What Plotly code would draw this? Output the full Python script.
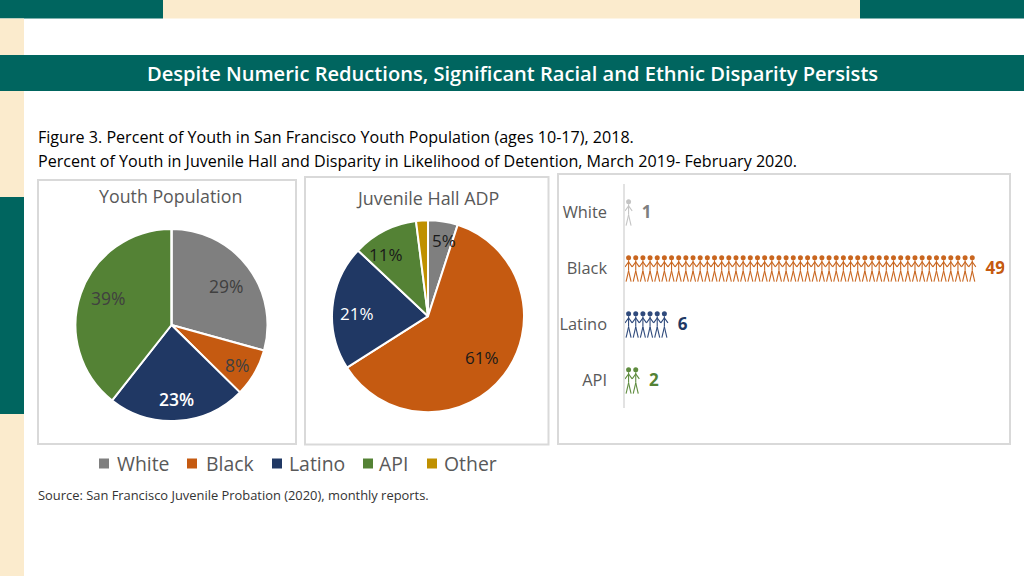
import plotly.graph_objects as go

# ---- data ----
pie_labels = ["White", "Black", "Latino", "API", "Other"]
youth_values = [29, 8, 23, 39, 0]
hall_values = [5, 61, 21, 11, 2]
youth_text = ["29%", "8%", "23%", "39%"]
hall_text = ["5%", "61%", "21%", "11%"]
picto_categories = ["White", "Black", "Latino", "API"]
picto_values = [1, 49, 6, 2]
title_text = "Despite Numeric Reductions, Significant Racial and Ethnic Disparity Persists"
fig_line1 = "Figure 3. Percent of Youth in San Francisco Youth Population (ages 10-17), 2018."
fig_line2 = "Percent of Youth in Juvenile Hall and Disparity in Likelihood of Detention, March 2019- February 2020."
source_text = "Source: San Francisco Juvenile Probation (2020), monthly reports."

# ---- styles ----
W, H = 1024, 576
FONT = "Open Sans"
TEAL = "#00655F"
CREAM = "#FBEBCD"
BORDER = "#D9D9D9"
GREY = "#595959"
pie_colors = ["#7F7F7F", "#C55A11", "#203864", "#548235", "#BF9000"]
picto_colors = ["#C4C4C4", "#C9661F", "#2F4A7C", "#5F8C3F"]
picto_label_colors = ["#7F7F7F", "#C55A11", "#203864", "#548235"]


def px(x):
    return x / W


def py(y):
    return 1 - y / H


def rect(x0, y0, x1, y1, fill=None, line=None, lw=2):
    return dict(type="rect", xref="paper", yref="paper", x0=px(x0), x1=px(x1), y0=py(y1), y1=py(y0),
                fillcolor=fill or "rgba(0,0,0,0)", line=dict(color=line or "rgba(0,0,0,0)", width=lw if line else 0),
                layer="below")


def note(x, y, text, size, color, anchor="center", weight=400):
    return dict(xref="paper", yref="paper", x=px(x - 2 if anchor == "left" else x), y=py(y), text=text,
                showarrow=False, xanchor=anchor, yanchor="middle",
                font=dict(family=FONT, size=size, color=color, weight=weight))


fig = go.Figure()


def add_pie(values, cx, cy, r):
    fig.add_trace(go.Pie(labels=pie_labels, values=values, sort=False, direction="clockwise", rotation=0,
                         textinfo="none", showlegend=False,
                         marker=dict(colors=pie_colors, line=dict(color="white", width=2)),
                         domain=dict(x=[px(cx - r), px(cx + r)], y=[py(cy + r), py(cy - r)])))


add_pie(youth_values, 171.5, 325, 96)
add_pie(hall_values, 428, 316.2, 96)

# pictogram: one glyph per unit of value, positioned by the axes
GLYPH_X = [0.5, 0.5, None, 0.5, 0.15, None, 0.5, 0.85, None, 0.0, 0.5, 1.0]
GLYPH_Y = [-0.14, 0.05, None, 0.05, 0.245, None, 0.05, 0.245, None, -0.02, -0.11, -0.02]
for i, (n, col) in enumerate(zip(picto_values, picto_colors)):
    xs, ys, hx, hy = [], [], [], []
    for k in range(n):
        xs += [None if g is None else k + g for g in GLYPH_X] + [None]
        ys += [None if g is None else i + g for g in GLYPH_Y] + [None]
        hx.append(k + 0.5)
        hy.append(i - 0.185)
    fig.add_trace(go.Scatter(x=xs, y=ys, mode="lines", line=dict(color=col, width=1.1), xaxis="x", yaxis="y",
                             showlegend=False, connectgaps=False))
    fig.add_trace(go.Scatter(x=hx, y=hy, mode="markers", marker=dict(color=col, size=5, symbol="circle"),
                             xaxis="x", yaxis="y", showlegend=False))
fig.add_trace(go.Scatter(x=[v + 1.35 for v in picto_values], y=[i + 0.035 for i in range(len(picto_values))],
                         mode="text",
                         text=[f"<b>{v}</b>" for v in picto_values], textposition="middle right",
                         textfont=dict(family=FONT, size=17, color=picto_label_colors),
                         xaxis="x", yaxis="y", showlegend=False))

shapes = [
    rect(0, 0, 163, 18.5, fill=TEAL),
    rect(163, 0, 860, 18.5, fill=CREAM),
    rect(860, 0, 1024, 18.5, fill=TEAL),
    rect(0, 18.5, 24, 197, fill=CREAM),
    rect(0, 197, 24, 414, fill=TEAL),
    rect(0, 414, 24, 576, fill=CREAM),
    rect(0, 55, 1024, 91, fill=TEAL),
    rect(38, 180, 296, 444, line=BORDER),
    rect(305, 177, 548.5, 444.5, line=BORDER),
    rect(558, 174, 1010, 444, line=BORDER),
]
# legend
legend_x = [(99, 117), (187, 206), (272, 289), (363, 379), (427, 444)]
for (sq, tx), lab, col in zip(legend_x, pie_labels, pie_colors):
    shapes.append(rect(sq, 458.5, sq + 10, 468.5, fill=col))

annotations = [
    note(512, 73, title_text, 20.1, "white", weight=600),
    note(38, 137, fig_line1, 16.1, "#000000", "left"),
    note(38, 161, fig_line2, 16.1, "#000000", "left"),
    note(170.5, 196, "Youth Population", 17.8, GREY),
    note(427, 198, "Juvenile Hall ADP", 17.9, GREY),
    note(38, 495, source_text, 12.9, "#333333", "left"),
]
for (sq, tx), lab in zip(legend_x, pie_labels):
    annotations.append(note(tx, 463.5, lab, 19.4, GREY, "left"))

youth_pos = [(226, 286), (237, 365), (176, 399), (108, 298)]
youth_cols = ["#404040", "#404040", "white", "#404040"]
youth_wt = [400, 400, 600, 400]
for (x, y), t, c, w in zip(youth_pos, youth_text, youth_cols, youth_wt):
    annotations.append(note(x, y, t, 17.5, c, weight=w))
hall_pos = [(444, 240), (482, 357), (357, 313), (386, 255)]
hall_cols = ["#1A1A1A", "#1A1A1A", "white", "#1A1A1A"]
for (x, y), t, c in zip(hall_pos, hall_text, hall_cols):
    annotations.append(note(x, y, t, 17, c))

fig.update_layout(
    width=W, height=H, autosize=False, margin=dict(l=0, r=0, t=0, b=0),
    paper_bgcolor="white", plot_bgcolor="rgba(0,0,0,0)", showlegend=False,
    shapes=shapes, annotations=annotations,
    xaxis=dict(domain=[px(625), px(625 + 7.16 * 53)], range=[0, 53], visible=False, fixedrange=True),
    yaxis=dict(domain=[py(408), py(184)], range=[3.5, -0.5], tickmode="array",
               tickvals=list(range(len(picto_categories))), ticktext=picto_categories,
               showgrid=False, zeroline=False, showline=False, ticks="", ticklabelstandoff=17,
               tickfont=dict(family=FONT, size=16.4, color=GREY), anchor="x", fixedrange=True),
)
fig.add_shape(type="line", xref="paper", yref="paper", x0=px(624), x1=px(624), y0=py(408), y1=py(184),
              line=dict(color=BORDER, width=1.5))
fig.write_html("out.html", config=dict(displayModeBar=False),
               post_script="document.documentElement.style.margin='0';document.body.style.margin='0';document.body.style.overflow='hidden';")
